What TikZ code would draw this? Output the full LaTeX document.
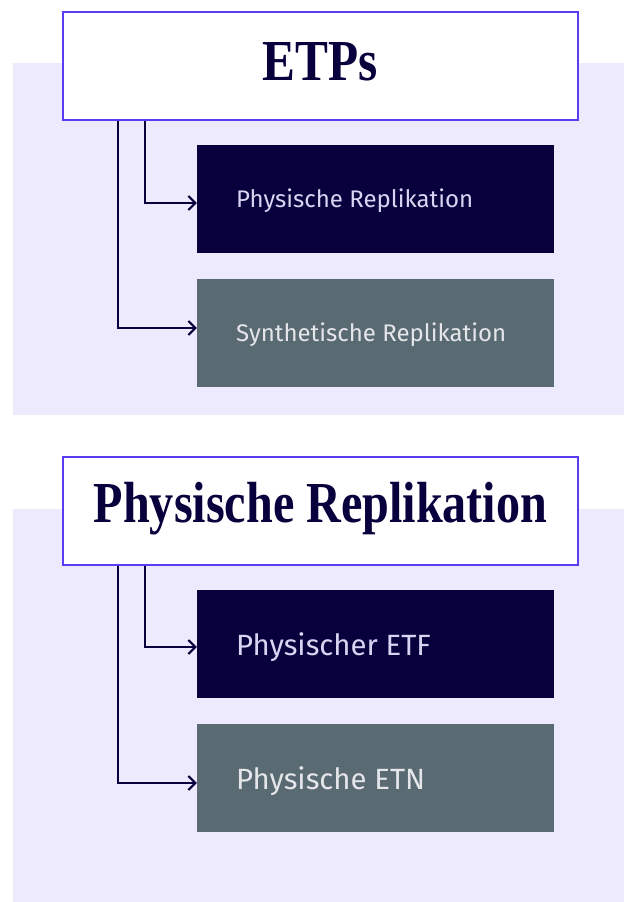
\documentclass[tikz,border=0pt]{standalone}
\usepackage{fontspec}
\setmainfont{Liberation Serif}
\newfontfamily\boxfont{Fira Sans}
\usetikzlibrary{arrows.meta}
\definecolor{panelbg}{HTML}{EDEAFD}
\definecolor{hdrborder}{HTML}{5A3CF5}
\definecolor{navy}{HTML}{08003D}
\definecolor{slate}{HTML}{5A6A72}
\definecolor{lighttxt}{HTML}{D8D5F2}
\definecolor{lighttxtb}{HTML}{E4E6EA}
\tikzset{
  panel/.style={fill=panelbg, draw=none},
  hdrbox/.style={draw=hdrborder, fill=white, line width=1.5pt, minimum width=515pt, minimum height=108pt, inner sep=0pt},
  hdrtxt/.style={text=navy, font=\fontsize{58}{60}\selectfont\bfseries, inner sep=0pt, anchor=base},
  darkbox/.style={fill=navy, draw=none, minimum width=357pt, minimum height=108pt, inner sep=0pt},
  greybox/.style={fill=slate, draw=none, minimum width=357pt, minimum height=108pt, inner sep=0pt},
  boxtxt/.style={font=\boxfont\fontsize{24}{28}\selectfont, inner sep=0pt, anchor=base west},
  boxtxtbig/.style={font=\boxfont\fontsize{29.3}{33}\selectfont, inner sep=0pt, anchor=base west},
  conn/.style={draw=navy, line width=2pt, -{Straight Barb[length=7pt,width=14pt,line width=2pt]}}
}
\begin{document}
\begin{tikzpicture}[x=1pt,y=-1pt]
\useasboundingbox (0,0) rectangle (624,902);
\fill[white] (0,0) rectangle (624,902);
% panel 1
\path[panel] (13,63) rectangle (624,415);
\node[hdrbox] (h1) at (320.5,66) {};
\node[hdrtxt] (h1t) at (320.5,80) {\scalebox{0.85}[1]{ETPs}};
\node[darkbox] (a) at (375.5,199) {};
\node[boxtxt, text=lighttxt] (at) at (236,207) {Physische Replikation};
\node[greybox] (b) at (375.5,333) {};
\node[boxtxt, text=lighttxtb] (bt) at (236,341) {Synthetische Replikation};
\draw[conn] ([xshift=83pt]h1.south west) |- ([yshift=-4pt]a.west);
\draw[conn] ([xshift=56pt]h1.south west) |- ([yshift=5pt]b.west);
% panel 2
\path[panel] (13,509) rectangle (624,902);
\node[hdrbox] (h2) at (320.5,511) {};
\node[hdrtxt] (h2t) at (320.5,522) {\scalebox{0.83}[1]{Physische Replikation}};
\node[darkbox] (c) at (375.5,644) {};
\node[boxtxtbig, text=lighttxt] (ct) at (236,655) {Physischer ETF};
\node[greybox] (d) at (375.5,778) {};
\node[boxtxtbig, text=lighttxtb] (dt) at (236,789) {Physische ETN};
\draw[conn] ([xshift=83pt]h2.south west) |- ([yshift=-3pt]c.west);
\draw[conn] ([xshift=56pt]h2.south west) |- ([yshift=-5pt]d.west);
\end{tikzpicture}
\end{document}
